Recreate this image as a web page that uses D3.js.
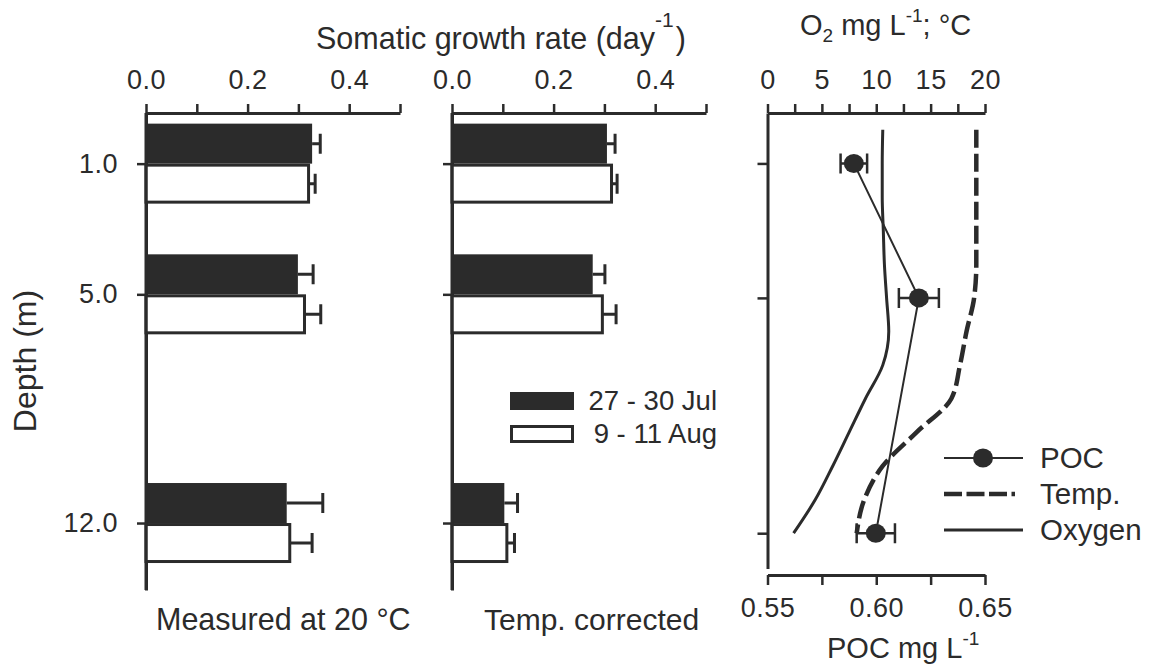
<!DOCTYPE html>
<html>
<head>
<meta charset="utf-8">
<script src="https://cdn.jsdelivr.net/npm/d3@7"></script>
<style>
  html, body { margin: 0; padding: 0; background: #fff; }
  svg { display: block; font-family: "Liberation Sans", Arial, sans-serif; }
</style>
</head>
<body>
<svg id="chart" width="1152" height="668"></svg>
<script>
// ---------------- DATA ----------------
const depths = [1, 5, 12];
const seriesNames = ["27 - 30 Jul", "9 - 11 Aug"];
// Measured at 20 °C
const measuredJul = [0.327, 0.299, 0.277];
const measuredJulErr = [0.016, 0.030, 0.071];
const measuredAug = [0.320, 0.312, 0.283];
const measuredAugErr = [0.013, 0.032, 0.044];
// Temperature corrected
const correctedJul = [0.305, 0.277, 0.103];
const correctedJulErr = [0.016, 0.024, 0.026];
const correctedAug = [0.314, 0.296, 0.108];
const correctedAugErr = [0.011, 0.027, 0.015];
// Profiles (depth m -> value)
const profileDepths = [0, 1, 2, 3, 4, 5, 6, 7, 8, 9, 10, 11, 12];
const oxygen = [10.6, 10.55, 10.55, 10.65, 10.75, 10.95, 11.15, 10.6, 9.0, 7.5, 6.0, 4.4, 2.4];
const temperature = [19.2, 19.2, 19.2, 19.2, 19.2, 19.0, 18.3, 17.7, 16.9, 13.7, 10.6, 8.9, 8.2];
const pocDepths = [1, 5, 12];
const poc = [0.5897, 0.6196, 0.5998];
const pocErr = [0.0061, 0.0092, 0.0088];
// Tick values / labels
const growthTicks = [0, 0.1, 0.2, 0.3, 0.4, 0.5];
const growthLabels = ["0.0", "", "0.2", "", "0.4", ""];
const depthTicks = [1, 5, 12];
const depthLabels = ["1.0", "5.0", "12.0"];
const envTicks = [0, 2.5, 5, 7.5, 10, 12.5, 15, 17.5, 20];
const envLabels = ["0", "", "5", "", "10", "", "15", "", "20"];
const pocTicks = [0.55, 0.575, 0.60, 0.625, 0.65];
const pocLabels = ["0.55", "", "0.60", "", "0.65"];
const legend3Names = ["POC", "Temp.", "Oxygen"];

// ---------------- LAYOUT ----------------
const INK = "#2b2b2b";
const svg = d3.select("#chart");
const tickFont = 27;

const yBar = d3.scaleLinear().domain([-0.55, 14.05]).range([113, 590]);
const xP1 = d3.scaleLinear().domain([0, 0.5]).range([146, 400]);
const xP2 = d3.scaleLinear().domain([0, 0.5]).range([452, 706]);
const yEnv = d3.scaleLinear().domain([-0.5, 13.05]).range([113, 568.5]);
const xEnv = d3.scaleLinear().domain([0, 20]).range([767.5, 985]);
const xPoc = d3.scaleLinear().domain([0.55, 0.65]).range([767.5, 985]);

function styleAxis(g) {
  g.select(".domain").attr("stroke", INK).attr("stroke-width", 3);
  g.selectAll(".tick line").attr("stroke", INK).attr("stroke-width", 2.5);
  g.selectAll(".tick text").attr("fill", INK).attr("font-size", tickFont)
    .attr("font-family", "'Liberation Sans', Arial, sans-serif").attr("letter-spacing", 0.5);
}

function barPanel(x, jul, julErr, aug, augErr, showDepthLabels) {
  const g = svg.append("g");
  const ax = d3.axisTop(x).tickValues(growthTicks)
    .tickFormat((d, i) => growthLabels[i]).tickSize(9).tickSizeOuter(0).tickPadding(15);
  g.append("g").attr("transform", `translate(0,${yBar.range()[0]})`).call(ax).call(styleAxis);
  const ay = d3.axisLeft(yBar).tickValues(depthTicks)
    .tickFormat((d, i) => showDepthLabels ? depthLabels[i] : "").tickSize(9).tickSizeOuter(0).tickPadding(19);
  g.append("g").attr("transform", `translate(${x.range()[0]},0)`).call(ay).call(styleAxis);

  const bh = 40;
  const rows = depths.map((d, i) => ({ d, jul: jul[i], julErr: julErr[i], aug: aug[i], augErr: augErr[i] }));
  const errs = [];
  rows.forEach(r => {
    errs.push({ v: r.jul, e: r.julErr, y: yBar(r.d) - bh / 2 });
    errs.push({ v: r.aug, e: r.augErr, y: yBar(r.d) + bh / 2 });
  });
  g.selectAll(".err").data(errs).join("path")
    .attr("d", e => `M${x(e.v)},${e.y}H${x(e.v + e.e)}M${x(e.v + e.e)},${e.y - 10}V${e.y + 10}`)
    .attr("stroke", INK).attr("stroke-width", 3).attr("fill", "none");
  g.selectAll(".bj").data(rows).join("rect")
    .attr("x", x(0)).attr("y", r => yBar(r.d) - bh)
    .attr("width", r => x(r.jul) - x(0)).attr("height", bh)
    .attr("fill", INK);
  g.selectAll(".ba").data(rows).join("rect")
    .attr("x", x(0)).attr("y", r => yBar(r.d) + 1.5)
    .attr("width", r => x(r.aug) - x(0)).attr("height", bh - 3)
    .attr("fill", "#fff").attr("stroke", INK).attr("stroke-width", 3);
  g.append("line").attr("x1", x(0)).attr("x2", x(0)).attr("y1", yBar.range()[0]).attr("y2", yBar.range()[1])
    .attr("stroke", INK).attr("stroke-width", 3);
  return g;
}

barPanel(xP1, measuredJul, measuredJulErr, measuredAug, measuredAugErr, true);
barPanel(xP2, correctedJul, correctedJulErr, correctedAug, correctedAugErr, false);

// Titles
const title = svg.append("text").attr("x", 316).attr("y", 49).attr("font-size", 30.5).attr("fill", INK);
title.append("tspan").text("Somatic growth rate (day");
title.append("tspan").attr("font-size", 21).attr("dy", -22).text("-1");
title.append("tspan").attr("dy", 22).attr("dx", 2).text(")");

svg.append("text").attr("transform", "translate(36,361) rotate(-90)")
  .attr("text-anchor", "middle").attr("font-size", 32).attr("fill", INK).text("Depth (m)");

svg.append("text").attr("x", 156).attr("y", 630).attr("font-size", 30.5).attr("fill", INK).text("Measured at 20 °C");
svg.append("text").attr("x", 484).attr("y", 630).attr("font-size", 30).attr("fill", INK).text("Temp. corrected");

// Legend bars
const lg = svg.append("g");
seriesNames.forEach((n, i) => {
  const yy = 392 + i * 33;
  if (i === 0) {
    lg.append("rect").attr("x", 510).attr("y", yy).attr("width", 64).attr("height", 18).attr("fill", INK);
  } else {
    lg.append("rect").attr("x", 511.5).attr("y", yy + 1.5).attr("width", 61).attr("height", 15)
      .attr("fill", "#fff").attr("stroke", INK).attr("stroke-width", 3);
  }
  lg.append("text").attr("x", 717).attr("y", yy + 18).attr("text-anchor", "end")
    .attr("font-size", 27.5).attr("fill", INK).text(n);
});

// ---------------- PANEL 3 ----------------
const g3 = svg.append("g");
const axT = d3.axisTop(xEnv).tickValues(envTicks).tickFormat((d, i) => envLabels[i])
  .tickSize(9).tickSizeOuter(0).tickPadding(15);
g3.append("g").attr("transform", "translate(0,113)").call(axT).call(styleAxis);
const axB = d3.axisBottom(xPoc).tickValues(pocTicks).tickFormat((d, i) => pocLabels[i])
  .tickSize(10).tickSizeOuter(0).tickPadding(13);
g3.append("g").attr("transform", "translate(0,575)").call(axB).call(styleAxis);
const axL = d3.axisLeft(yEnv).tickValues(depthTicks).tickFormat("").tickSize(10).tickSizeOuter(0);
g3.append("g").attr("transform", `translate(${xEnv(0)},0)`).call(axL).call(styleAxis);

const t3 = svg.append("text").attr("x", 800).attr("y", 35).attr("font-size", 29).attr("fill", INK);
t3.append("tspan").text("O");
t3.append("tspan").attr("font-size", 19).attr("dy", 7).text("2");
t3.append("tspan").attr("dy", -7).text(" mg L");
t3.append("tspan").attr("font-size", 19).attr("dy", -13).text("-1");
t3.append("tspan").attr("dy", 13).text("; °C");

const t4 = svg.append("text").attr("x", 827).attr("y", 658).attr("font-size", 29).attr("fill", INK);
t4.append("tspan").text("POC mg L");
t4.append("tspan").attr("font-size", 19).attr("dy", -13).text("-1");

const prof = profileDepths.map((d, i) => ({ d, o: oxygen[i], t: temperature[i] }));
g3.append("path").datum(prof)
  .attr("d", d3.line().x(p => xEnv(p.o)).y(p => yEnv(p.d)).curve(d3.curveMonotoneY))
  .attr("fill", "none").attr("stroke", INK).attr("stroke-width", 3);
g3.append("path").datum(prof)
  .attr("d", d3.line().x(p => xEnv(p.t)).y(p => yEnv(p.d)).curve(d3.curveMonotoneY))
  .attr("fill", "none").attr("stroke", INK).attr("stroke-width", 4.5).attr("stroke-dasharray", "18,6");

const pocData = pocDepths.map((d, i) => ({ d, v: poc[i], e: pocErr[i] }));
g3.append("path").datum(pocData)
  .attr("d", d3.line().x(p => xPoc(p.v)).y(p => yEnv(p.d)))
  .attr("fill", "none").attr("stroke", INK).attr("stroke-width", 2);
g3.selectAll(".perr").data(pocData).join("path")
  .attr("d", p => {
    const y = yEnv(p.d), x0 = xPoc(p.v - p.e), x1 = xPoc(p.v + p.e);
    return `M${x0},${y}H${x1}M${x0},${y - 10}V${y + 10}M${x1},${y - 10}V${y + 10}`;
  })
  .attr("stroke", INK).attr("stroke-width", 2.5).attr("fill", "none");
g3.selectAll(".pdot").data(pocData).join("ellipse")
  .attr("cx", p => xPoc(p.v)).attr("cy", p => yEnv(p.d)).attr("rx", 10).attr("ry", 9.5).attr("fill", INK);

// Legend 3
const l3 = svg.append("g");
legend3Names.forEach((n, i) => {
  const yy = 458 + i * 36;
  const line = l3.append("line").attr("x1", 944).attr("x2", i === 1 ? 1015 : 1023).attr("y1", yy).attr("y2", yy)
    .attr("stroke", INK);
  if (i === 0) { line.attr("stroke-width", 2); l3.append("ellipse").attr("cx", 983).attr("cy", yy).attr("rx", 10).attr("ry", 9.5).attr("fill", INK); }
  if (i === 1) line.attr("stroke-width", 4.5).attr("stroke-dasharray", "18,4.5");
  if (i === 2) line.attr("stroke-width", 3);
  l3.append("text").attr("x", 1040).attr("y", yy + 10).attr("font-size", 29.5).attr("fill", INK).text(n);
});
</script>
</body>
</html>
